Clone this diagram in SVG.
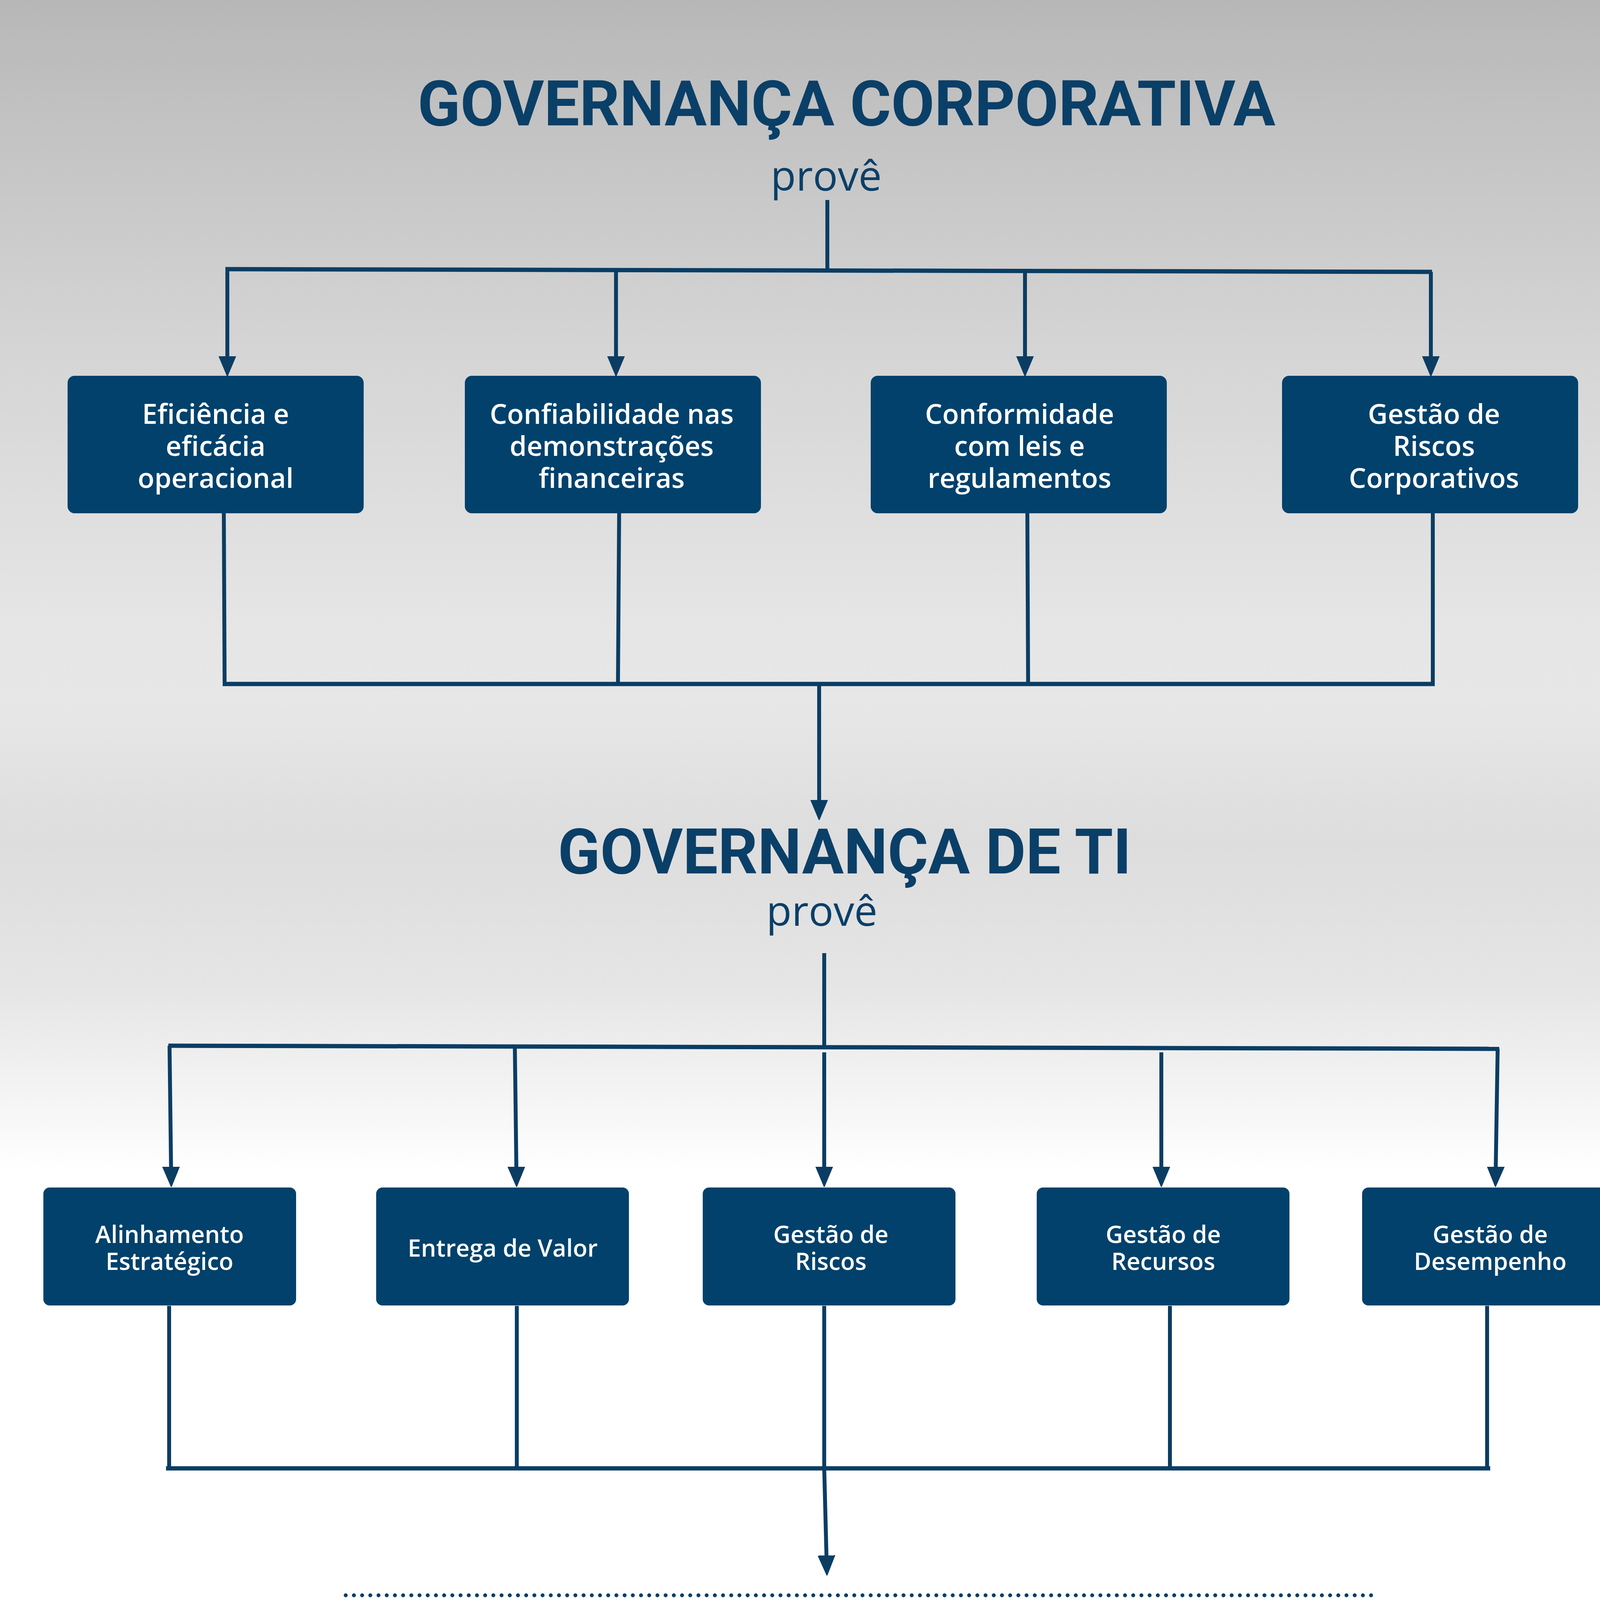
<svg xmlns="http://www.w3.org/2000/svg" width="4242" height="6000" viewBox="0 0 4242 6000">
<defs>
<linearGradient id="bg" x1="0" y1="0" x2="0" y2="1">
<stop offset="0" stop-color="#b7b7b7"/>
<stop offset="0.05" stop-color="#c2c2c2"/>
<stop offset="0.15" stop-color="#d5d5d5"/>
<stop offset="0.27" stop-color="#e6e6e6"/>
<stop offset="0.30" stop-color="#e7e7e7"/>
<stop offset="0.36" stop-color="#dddddd"/>
<stop offset="0.42" stop-color="#e5e5e5"/>
<stop offset="0.47" stop-color="#f5f5f5"/>
<stop offset="0.50" stop-color="#ffffff"/>
<stop offset="1" stop-color="#ffffff"/>
</linearGradient>
<marker id="arr" markerUnits="userSpaceOnUse" markerWidth="52" markerHeight="46" viewBox="0 0 52 46" refX="10" refY="23" orient="auto">
<path d="M0,2 L50,23 L0,44 z" fill="#0b3d63" stroke="#0b3d63" stroke-width="3" stroke-linejoin="round"/>
</marker>
<style>
.title{font-family:Roboto,"Liberation Sans",sans-serif;font-weight:700;fill:#0a3f68;text-anchor:middle}
.prove{font-family:"Open Sans","Liberation Sans",sans-serif;font-weight:400;fill:#0a3f68;text-anchor:middle;font-size:106px}
.box{fill:#01416b}
.bt1{font-family:"Open Sans","Liberation Sans",sans-serif;font-weight:600;fill:#ffffff;text-anchor:middle;font-size:70px}
.bt2{font-family:"Open Sans","Liberation Sans",sans-serif;font-weight:600;fill:#ffffff;text-anchor:middle;font-size:61px}
.ln{fill:none;stroke:#0b3d63;stroke-width:10}
.bar{fill:none;stroke:#0b3d63;stroke-width:11}
.arw{fill:none;stroke:#0b3d63;stroke-width:10;marker-end:url(#arr)}
.dot{fill:none;stroke:#0b3d63;stroke-width:10;stroke-linecap:round;stroke-dasharray:0 21}
.thick{fill:none;stroke:#0b3d63;stroke-width:15;stroke-linecap:round}
.circ{fill:none;stroke:#3d5a80;stroke-width:8}
.ct{font-family:"Open Sans","Liberation Sans",sans-serif;font-weight:600;fill:#0a3a60;text-anchor:middle;font-size:63px}
.impl{font-family:"Open Sans","Liberation Sans",sans-serif;font-weight:400;fill:#3d5a80;text-anchor:middle;font-size:84px}
.f1{font-family:"Open Sans","Liberation Sans",sans-serif;font-weight:300;fill:#333333;font-size:44px}
.f2{font-family:"Open Sans","Liberation Sans",sans-serif;font-weight:700;fill:#000000;font-size:44px}
</style>
</defs>
<rect x="0" y="0" width="4242" height="6000" fill="url(#bg)"/>

<g id="title-corporativa">
<text class="title" x="2167" y="321" font-size="162" textLength="2196" lengthAdjust="spacingAndGlyphs">GOVERNANÇA CORPORATIVA</text>
<text class="prove" x="2115" y="488">provê</text>
</g>

<g id="title-ti">
<text class="title" x="2162" y="2236" font-size="162" textLength="1468" lengthAdjust="spacingAndGlyphs">GOVERNANÇA DE TI</text>
<text class="prove" x="2104" y="2370">provê</text>
</g>

<g id="connectors">
<path class="ln" d="M2118,512 L2118,692"/>
<path class="bar" d="M577,689 L3666,696"/>
<path class="arw" d="M582,689 L582,922"/>
<path class="arw" d="M1577,691 L1577,922"/>
<path class="arw" d="M2624,693 L2624,922"/>
<path class="arw" d="M3663,696 L3663,922"/>
<path class="ln" d="M573,1314 L575,1751"/>
<path class="ln" d="M1585,1314 L1582,1751"/>
<path class="ln" d="M2630,1314 L2632,1751"/>
<path class="ln" d="M3668,1314 L3668,1751"/>
<path class="bar" d="M570,1751 L3673,1751"/>
<path class="arw" d="M2097,1751 L2097,2058"/>

<path class="ln" d="M2110,2440 L2110,2680"/>
<path class="bar" d="M431,2677 L3838,2685"/>
<path class="arw" d="M434,2677 L438,2997"/>
<path class="arw" d="M1318,2679 L1322,2997"/>
<path class="arw" d="M2110,2694 L2110,2997"/>
<path class="arw" d="M2973,2694 L2973,2997"/>
<path class="arw" d="M3834,2685 L3829,2997"/>
<path class="ln" d="M433,3343 L433,3759"/>
<path class="ln" d="M1323,3343 L1323,3759"/>
<path class="ln" d="M2995,3343 L2995,3759"/>
<path class="ln" d="M3807,3343 L3807,3759"/>
<path class="bar" d="M425,3759 L3815,3759"/>
<path class="arw" d="M2110,3343 L2110,3759 L2116,3992"/>

<path class="dot" d="M885,4084 L3522,4084"/>
<path class="dot" d="M885,4272 L3518,4272"/>
<path class="arw" d="M2127,4324 L2127,4516"/>
<path class="thick" d="M495,4570 L3714,4570"/>
<path class="thick" d="M495,5346 L3714,5346"/>
</g>

<g id="box-eficiencia">
<rect class="box" x="173" y="962" width="758" height="352" rx="18"/>
<text class="bt1" x="552" y="1085">Eficiência e</text>
<text class="bt1" x="552" y="1167">eficácia</text>
<text class="bt1" x="552" y="1249">operacional</text>
</g>
<g id="box-confiabilidade">
<rect class="box" x="1190" y="962" width="758" height="352" rx="18"/>
<text class="bt1" x="1566" y="1085">Confiabilidade nas</text>
<text class="bt1" x="1566" y="1167">demonstrações</text>
<text class="bt1" x="1566" y="1249">financeiras</text>
</g>
<g id="box-conformidade">
<rect class="box" x="2229" y="962" width="758" height="352" rx="18"/>
<text class="bt1" x="2610" y="1085">Conformidade</text>
<text class="bt1" x="2610" y="1167">com leis e</text>
<text class="bt1" x="2610" y="1249">regulamentos</text>
</g>
<g id="box-riscos-corp">
<rect class="box" x="3282" y="962" width="758" height="352" rx="18"/>
<text class="bt1" x="3671" y="1085">Gestão de</text>
<text class="bt1" x="3671" y="1167">Riscos</text>
<text class="bt1" x="3671" y="1249">Corporativos</text>
</g>

<g id="box-alinhamento">
<rect class="box" x="111" y="3040" width="647" height="302" rx="16"/>
<text class="bt2" x="434" y="3182">Alinhamento</text>
<text class="bt2" x="434" y="3251">Estratégico</text>
</g>
<g id="box-entrega">
<rect class="box" x="963" y="3040" width="647" height="302" rx="16"/>
<text class="bt2" x="1287" y="3217">Entrega de Valor</text>
</g>
<g id="box-riscos">
<rect class="box" x="1799" y="3040" width="647" height="302" rx="16"/>
<text class="bt2" x="2127" y="3182">Gestão de</text>
<text class="bt2" x="2127" y="3251">Riscos</text>
</g>
<g id="box-recursos">
<rect class="box" x="2654" y="3040" width="647" height="302" rx="16"/>
<text class="bt2" x="2978" y="3182">Gestão de</text>
<text class="bt2" x="2978" y="3251">Recursos</text>
</g>
<g id="box-desempenho">
<rect class="box" x="3487" y="3040" width="647" height="302" rx="16"/>
<text class="bt2" x="3815" y="3182">Gestão de</text>
<text class="bt2" x="3815" y="3251">Desempenho</text>
</g>

<g id="implementada">
<text class="impl" x="2205" y="4213">E é implementada com o auxílio de normas, modelos e padrões</text>
</g>

<g id="c-coso"><circle class="circ" cx="757" cy="4785" r="141"/><text class="ct" x="757" y="4808">COSO</text></g>
<g id="c-iso38500"><circle class="circ" cx="1205" cy="4785" r="141"/><text class="ct" x="1205" y="4778">ISO</text><text class="ct" x="1205" y="4839">38500</text></g>
<g id="c-cobit"><circle class="circ" cx="1683" cy="4785" r="141"/><text class="ct" x="1683" y="4808">COBIT</text></g>
<g id="c-valit"><circle class="circ" cx="2156" cy="4785" r="141"/><text class="ct" x="2152" y="4803">VAL IT</text></g>
<g id="c-iso20000"><circle class="circ" cx="2639" cy="4785" r="141"/><text class="ct" x="2646" y="4778">ISO</text><text class="ct" x="2646" y="4839">20000</text></g>
<g id="c-iso9000"><circle class="circ" cx="3070" cy="4785" r="141"/><text class="ct" x="3064" y="4778">ISO</text><text class="ct" x="3064" y="4839">9000</text></g>
<g id="c-iso27002"><circle class="circ" cx="3474" cy="4785" r="141"/><text class="ct" x="3474" y="4778">ISO</text><text class="ct" x="3474" y="4839">27002</text></g>

<g id="c-bsc"><circle class="circ" cx="757" cy="5131" r="141"/><text class="ct" x="757" y="5156">BSC</text></g>
<g id="c-pmbok"><circle class="circ" cx="1205" cy="5131" r="141"/><text class="ct" x="1205" y="5156">PMBOK</text></g>
<g id="c-cmmi"><circle class="circ" cx="1683" cy="5131" r="141"/><text class="ct" x="1683" y="5156">CMMI</text></g>
<g id="c-itil"><circle class="circ" cx="2148" cy="5131" r="141"/><text class="ct" x="2148" y="5156">ITIL</text></g>
<g id="c-6sigma"><circle class="circ" cx="2626" cy="5131" r="141"/><text class="ct" x="2624" y="5110">6</text><text class="ct" x="2624" y="5172">SIGMA</text></g>
<g id="c-mpsbr"><circle class="circ" cx="3060" cy="5131" r="141"/><text class="ct" x="3060" y="5139">MPS.BR</text></g>
<g id="c-mor"><circle class="circ" cx="3474" cy="5131" r="141"/><text class="ct" x="3474" y="5156">MOR</text></g>

<g id="footer">
<text class="f1" x="311" y="5784" textLength="2210" lengthAdjust="spacingAndGlyphs">Imagem adaptada de: FEELY, Dan. Getting Governance Right. Info Source, v. VII, n. 3, dez 2007. Disponível em:</text>
<text class="f2" x="311" y="5844" textLength="3525" lengthAdjust="spacingAndGlyphs">http://www.transforrning.comnsi_news/best_consulting_firm_newsletters_december07.html. http://transforming.com/2007/12/17/getting-governance-right/</text>
</g>
</svg>
